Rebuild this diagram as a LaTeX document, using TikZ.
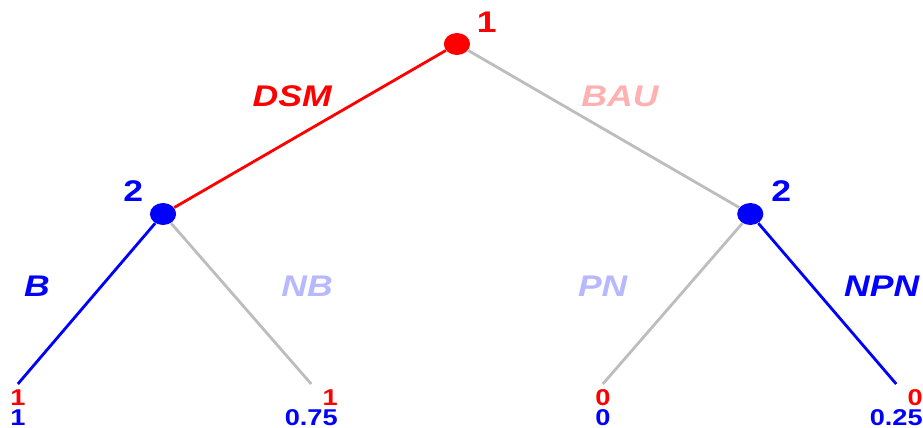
\documentclass[tikz,border=0pt]{standalone}
\usepackage{fontspec}
\setmainfont{Liberation Sans}
\usepackage{tikz}
\usetikzlibrary{positioning, calc}
\usepackage{xcolor}
\definecolor{cRed}{HTML}{FF0000}
\definecolor{cBlue}{HTML}{0000FF}
\definecolor{cGray}{HTML}{BDBDBD}
\definecolor{cPink}{HTML}{FFB0B0}
\definecolor{cPale}{HTML}{B8B8FF}
\tikzset{
  decnode/.style={
    circle, fill=#1, inner sep=0pt, minimum size=0.44cm,
  },
  branch/.style={line width=1.6pt, color=#1},
  branch/.default=cGray,
  actlabel/.style={
    font=\fontsize{17}{20}\selectfont\bfseries\itshape, text=#1,
    inner sep=0pt,
  },
  playerlabel/.style={
    font=\fontsize{17}{20}\selectfont\bfseries, text=#1, inner sep=0pt,
  },
  payoff/.style={
    font=\fontsize{13}{11.5}\selectfont\bfseries, align=right,
    inner sep=0pt, anchor=north,
  },
}

\begin{document}
\begin{tikzpicture}[xscale=1.19, every node/.append style={transform shape}]
  \useasboundingbox (0,0) rectangle (15.513,8.56);

  % Decision nodes
  \node[decnode=cRed] (root) at (7.68,7.68) {};
  \node[decnode=cBlue] (left) at (2.74,4.28) {};
  \node[decnode=cBlue] (right) at (12.61,4.28) {};

  % Leaves
  \coordinate (ll) at (0.30,0.88);
  \coordinate (lr) at (5.23,0.88);
  \coordinate (rl) at (10.13,0.88);
  \coordinate (rr) at (15.06,0.88);

  % Branches
  \draw[branch=cRed] (root) -- (left);
  \draw[branch] (root) -- (right);
  \draw[branch=cBlue] (left) -- (ll);
  \draw[branch] (left) -- (lr);
  \draw[branch] (right) -- (rl);
  \draw[branch=cBlue] (right) -- (rr);

  % Players
  \node[playerlabel=cRed] (p1) at (8.18,8.12) {1};
  \node[playerlabel=cBlue] (p2l) at (2.24,4.74) {2};
  \node[playerlabel=cBlue] (p2r) at (13.13,4.74) {2};

  % Actions
  \node[actlabel=cRed] (dsm) at (4.91,6.64) {DSM};
  \node[actlabel=cPink] (bau) at (10.42,6.64) {BAU};
  \node[actlabel=cBlue] (b) at (0.62,2.84) {B};
  \node[actlabel=cPale] (nb) at (5.16,2.84) {NB};
  \node[actlabel=cPale] (pn) at (10.13,2.84) {PN};
  \node[actlabel=cBlue] (npn) at (14.82,2.84) {NPN};

  % Payoffs
  \node[payoff, below=0.1cm of ll] (pll) {\textcolor{cRed}{1}\\\textcolor{cBlue}{1}};
  \node[payoff, below=0.1cm of lr] (plr) {\textcolor{cRed}{1}\\\textcolor{cBlue}{0.75}};
  \node[payoff, below=0.1cm of rl] (prl) {\textcolor{cRed}{0}\\\textcolor{cBlue}{0}};
  \node[payoff, below=0.1cm of rr] (prr) {\textcolor{cRed}{0}\\\textcolor{cBlue}{0.25}};

\end{tikzpicture}
\end{document}
